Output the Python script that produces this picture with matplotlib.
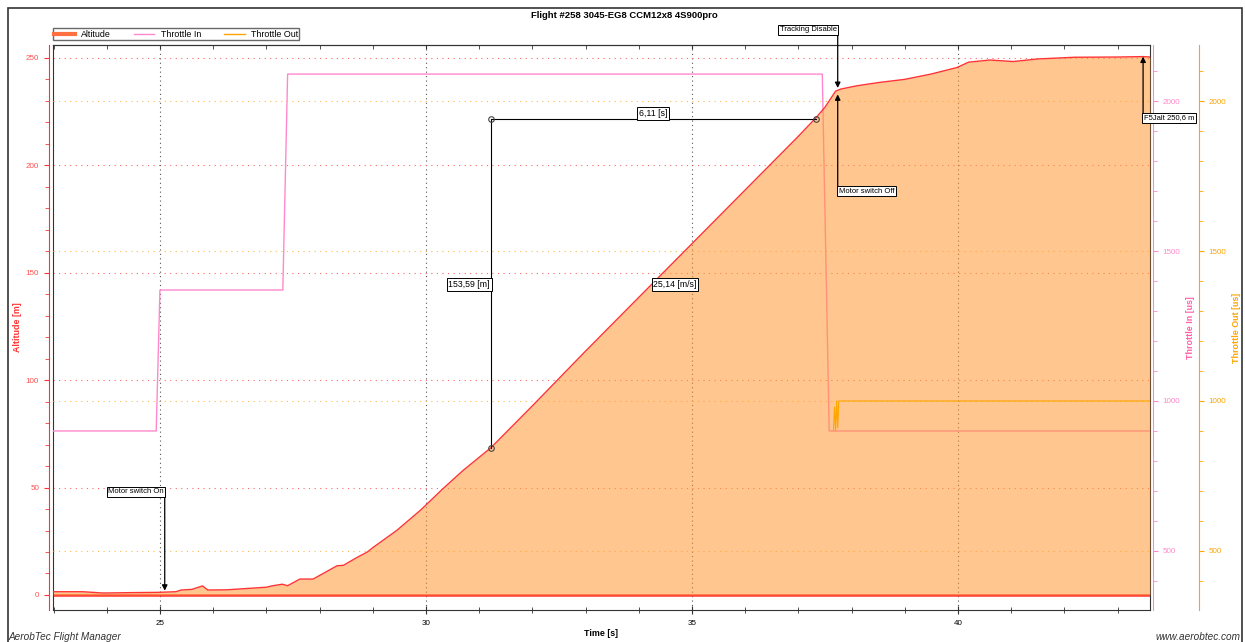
import numpy as np
import matplotlib
matplotlib.use('Agg')
import matplotlib.pyplot as plt
from matplotlib.lines import Line2D
from matplotlib.patches import Rectangle
from matplotlib.ticker import MultipleLocator

plt.rcParams['font.family'] = ['Liberation Sans', 'DejaVu Sans']

# altitude
t_alt = [22.99, 23.55, 23.93, 24.5, 24.94, 25.3, 25.4, 25.6, 25.8, 25.9, 26.26, 27.0, 27.1,
         27.3, 27.4, 27.63, 27.88, 28.33, 28.45, 28.7, 28.9, 29.0, 29.45, 29.9, 30.3, 30.7,
         31.22, 32.0, 33.0, 34.0, 35.0, 36.0, 37.0, 37.33, 37.5, 37.7, 37.8, 38.1, 38.5,
         39.0, 39.5, 39.98, 40.2, 40.6, 41.04, 41.5, 42.2, 43.0, 43.48, 43.61]
alt = [1.5, 1.5, 0.9, 1.1, 1.2, 1.5, 2.3, 2.6, 4.2, 2.3, 2.4, 3.6, 4.2,
       5.0, 4.3, 7.4, 7.4, 13.6, 13.8, 17.4, 20.0, 22.0, 30.0, 39.5, 49.0, 58.0,
       68.5, 88.0, 113.5, 138.5, 163.5, 188.5, 213.5, 222.1, 227.0, 234.5, 235.5, 237.0, 238.5,
       240.0, 242.5, 245.5, 248.0, 249.0, 248.3, 249.5, 250.3, 250.4, 250.6, 250.4]

# throttle signals [us]
t_thr_in = [22.99, 24.93, 25.0, 27.31, 27.4, 37.45, 37.58, 43.61]
thr_in = [900, 900, 1370, 1370, 2090, 2090, 900, 900]
t_thr_out = [37.66, 37.68, 37.70, 37.72, 37.74, 37.76, 37.78, 43.61]
thr_out = [900, 980, 900, 1000, 910, 1000, 1000, 1000]

# measurement between two cursors
m_t = [31.22, 37.33]
m_alt = [68.5, 221.5]

c_alt = '#ff3333'
c_in = '#ff88cc'
c_out = '#ffa500'

fig = plt.figure(figsize=(12.45, 6.42), dpi=100)
ax = fig.add_axes([53/1245, 32/642, 1097/1245, 565/642])
ax_in = ax.twinx()
ax_out = ax.twinx()

ax.set_xlim(22.99, 43.61)
ax.set_ylim(-7, 256)
ax_in.set_ylim(303, 2187)
ax_out.set_ylim(303, 2187)

# grids
for v in [25, 30, 35, 40]:
    ax.axvline(v, color='#555555', ls=(0, (1, 3)), lw=0.8, zorder=0)
for v in [50, 100, 150, 200, 250]:
    ax.axhline(v, color='#ff6666', ls=(0, (1, 4)), lw=0.8, zorder=0)
for v in [500, 1000, 1500, 2000]:
    ax_out.axhline(v, color='#ffb84d', ls=(0, (1, 4)), lw=0.8, zorder=0)

# throttle in drawn under the altitude fill
ax.plot([t_thr_in[0], t_thr_in[-1]], [0, 0], color=c_alt, lw=1.8, zorder=2)
ax_in.plot(t_thr_in, thr_in, color=c_in, lw=1.0, zorder=1)
ax_in.patch.set_visible(False)
ax_out.patch.set_visible(False)

# altitude fill goes on the top axes so it covers throttle in
scale = (2187 - 303) / (256 + 7)
alt_on_thr = 303 + (np.array(alt) + 7) * scale
zero_on_thr = 303 + 7 * scale
ax_out.fill_between(t_alt, alt_on_thr, zero_on_thr, color='#ff9933', alpha=0.55, lw=0, zorder=2)
ax_out.plot(t_alt, alt_on_thr, color=c_alt, lw=1.0, zorder=3)
ax_out.plot(t_thr_out, thr_out, color=c_out, lw=0.8, zorder=4)

# frame + x ticks
for s in ['top', 'bottom', 'right', 'left']:
    ax.spines[s].set_color('#333333')
ax.tick_params(axis='x', which='both', direction='inout', labelsize=5.8, color='#333333', pad=4)
ax.tick_params(axis='x', which='major', length=6)
ax.tick_params(axis='x', which='minor', length=4)
ax.xaxis.set_major_locator(MultipleLocator(5))
ax.xaxis.set_minor_locator(MultipleLocator(1))
ax.set_yticks([])
sec = ax.secondary_xaxis('top')
sec.xaxis.set_major_locator(MultipleLocator(5))
sec.xaxis.set_minor_locator(MultipleLocator(1))
sec.tick_params(axis='x', which='both', direction='in', labeltop=False, length=3, color='#333333')
sec.spines['top'].set_color('#333333')

# red altitude axis slightly outward
ax_red = ax.twinx()
ax_red.set_ylim(ax.get_ylim())
ax_red.yaxis.set_ticks_position('left')
ax_red.yaxis.set_label_position('left')
ax_red.spines['left'].set_position(('outward', 3))
ax_red.spines['left'].set_color(c_alt)
for s in ['top', 'bottom', 'right']:
    ax_red.spines[s].set_visible(False)
ax_red.yaxis.set_major_locator(MultipleLocator(50))
ax_red.yaxis.set_minor_locator(MultipleLocator(10))
ax_red.tick_params(axis='y', which='both', colors=c_alt, labelsize=5.8, labelcolor='#ff5050')
ax_red.tick_params(axis='y', which='minor', length=3)
ax_red.set_ylabel('Altitude [m]', color=c_alt, fontsize=6.4, fontweight='bold', labelpad=3)
ax_red.patch.set_visible(False)

ax_in.spines['right'].set_position(('outward', 2))
ax_in.spines['right'].set_color(c_in)
ax_out.spines['right'].set_position(('outward', 35))
ax_out.spines['right'].set_color(c_out)
for a, c, lc, lab, lp in [(ax_in, c_in, '#ff5fa8', 'Throttle In [us]', 4),
                          (ax_out, c_out, c_out, 'Throttle Out [us]', 4)]:
    a.yaxis.set_major_locator(MultipleLocator(500))
    a.yaxis.set_minor_locator(MultipleLocator(100))
    a.tick_params(axis='y', which='both', colors=c, labelsize=5.8)
    a.tick_params(axis='y', which='minor', length=3)
    a.set_ylabel(lab, color=lc, fontsize=6.4, fontweight='bold', labelpad=lp)
    for s in ['top', 'bottom', 'left']:
        a.spines[s].set_visible(False)

# annotations (drawn in altitude units on ax_red)
box = dict(boxstyle='square,pad=0.2', fc='white', ec='black', lw=0.7)
arrow = dict(arrowstyle='-|>', color='black', lw=0.9, mutation_scale=8, shrinkA=0, shrinkB=0)
A = ax_red

A.annotate('', xy=(25.09, 2), xytext=(25.09, 48), arrowprops=arrow)
A.text(25.07, 48, 'Motor switch On', fontsize=5.5, ha='right', va='center', bbox=box)

A.annotate('', xy=(37.74, 236), xytext=(37.74, 263), arrowprops=arrow, annotation_clip=False)
A.text(37.72, 263, 'Tracking Disable', fontsize=5.5, ha='right', va='center', bbox=box, clip_on=False)
A.annotate('', xy=(37.74, 233), xytext=(37.74, 188), arrowprops=arrow)
A.text(37.76, 188, 'Motor switch Off', fontsize=5.5, ha='left', va='center', bbox=box)

A.annotate('', xy=(43.48, 250.6), xytext=(43.48, 222), arrowprops=arrow)
A.text(43.49, 222, 'F5Jalt 250,6 m', fontsize=5.5, ha='left', va='center', bbox=box, clip_on=False)

# cursor measurement
A.plot([m_t[0], m_t[1]], [m_alt[1], m_alt[1]], color='black', lw=0.8)
A.plot([m_t[0], m_t[0]], [m_alt[0], m_alt[1]], color='black', lw=0.8)
A.plot([m_t[0], m_t[1], m_t[0]], [m_alt[1], m_alt[1], m_alt[0]], 'o', ms=4, mfc='none', mec='#444444', mew=0.8)
A.text((m_t[0] + m_t[1]) / 2, m_alt[1] + 0.5, '6,11 [s]', fontsize=6.3, ha='center', va='bottom', bbox=box)
A.text(m_t[0] - 0.02, 144.5, '153,59 [m]', fontsize=6.3, ha='right', va='center', bbox=box)
A.text((m_t[0] + m_t[1]) / 2, 144.5, '25,14 [m/s]', fontsize=6.3, ha='left', va='center', bbox=box)

# legend
handles = [Line2D([], [], color='#ff7040', lw=3),
           Line2D([], [], color=c_in, lw=1),
           Line2D([], [], color=c_out, lw=1)]
leg = fig.legend(handles, ['Altitude', 'Throttle In', 'Throttle Out'], loc='lower left',
                 bbox_to_anchor=(53/1245, 1 - 40/642), ncol=3, fontsize=6.4, frameon=True,
                 fancybox=False, edgecolor='#444444', borderpad=0.15, handlelength=2.3,
                 columnspacing=2.6, handletextpad=0.7, borderaxespad=0)
leg.get_frame().set_linewidth(1.0)

fig.text(624/1245, 1 - 16/642, 'Flight #258 3045-EG8 CCM12x8 4S900pro', ha='center', va='center',
         fontsize=6.8, fontweight='bold')
fig.text(601/1245, 1 - 634/642, 'Time [s]', ha='center', va='center', fontsize=6.4, fontweight='bold')
fig.text(8/1245, 1 - 637/642, 'AerobTec Flight Manager', ha='left', va='center', fontsize=7.2,
         style='italic', color='#333333')
fig.text(1240/1245, 1 - 637/642, 'www.aerobtec.com', ha='right', va='center', fontsize=7.2,
         style='italic', color='#333333')

fig.patches.append(Rectangle((7.5/1245, -0.02), 1234/1245, 1 - 8/642 + 0.02, transform=fig.transFigure,
                             fill=False, ec='#333333', lw=1.2))

fig.savefig('out.png', dpi=100)
